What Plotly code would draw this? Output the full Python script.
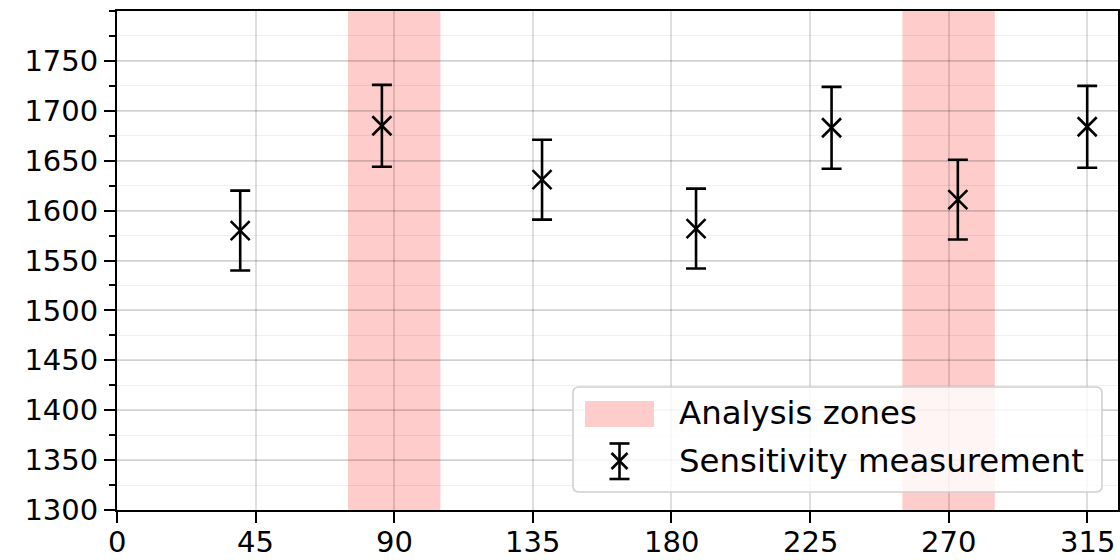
import plotly.graph_objects as go

# Measurement angles (degrees) and sensitivity readings with their uncertainties
angles = [40, 86, 138, 188, 232, 273, 315]
sensitivity = [1580, 1685, 1631, 1582, 1683, 1611, 1684]
sensitivity_err = [40, 41, 40, 40, 41, 40, 41]

# Highlighted analysis zones (degrees)
zone_starts = [75, 255]
zone_ends = [105, 285]

x_ticks = [0, 45, 90, 135, 180, 225, 270, 315]
y_ticks = [1300, 1350, 1400, 1450, 1500, 1550, 1600, 1650, 1700, 1750]

W, H = 1120, 560
ML, MR, MT, MB = 117, 2, 11, 50
PW, PH = W - ML - MR, H - MT - MB

FONT = "DejaVu Sans"
FS = 29
LEG_FS = 32.4
ZONE_COLOR = "#ffcccc"


def px(x):
    return (x - ML) / PW


def py(y):
    return 1 - (y - MT) / PH


fig = go.Figure()

fig.add_trace(go.Scatter(
    x=angles, y=sensitivity,
    mode="markers",
    marker=dict(symbol="x-thin", size=19, color="black",
                line=dict(width=2.6, color="black")),
    error_y=dict(type="data", array=sensitivity_err, visible=True,
                 color="black", thickness=2.6, width=10),
    showlegend=False,
))

shapes = []
for x0, x1 in zip(zone_starts, zone_ends):
    shapes.append(dict(type="rect", xref="x", yref="paper", x0=x0, x1=x1,
                       y0=0, y1=1, fillcolor=ZONE_COLOR, line=dict(width=0),
                       layer="below"))

# Legend frame (rounded box)
lx0, lx1, ly0, ly1, r = 573, 1102, 387, 492, 6
path = (f"M {px(lx0 + r)},{py(ly0)} L {px(lx1 - r)},{py(ly0)} "
        f"Q {px(lx1)},{py(ly0)} {px(lx1)},{py(ly0 + r)} "
        f"L {px(lx1)},{py(ly1 - r)} Q {px(lx1)},{py(ly1)} {px(lx1 - r)},{py(ly1)} "
        f"L {px(lx0 + r)},{py(ly1)} Q {px(lx0)},{py(ly1)} {px(lx0)},{py(ly1 - r)} "
        f"L {px(lx0)},{py(ly0 + r)} Q {px(lx0)},{py(ly0)} {px(lx0 + r)},{py(ly0)} Z")
shapes.append(dict(type="path", xref="paper", yref="paper", path=path,
                   fillcolor="rgba(255,255,255,0.8)",
                   line=dict(color="#d0d0d0", width=1.6), layer="above"))

# Legend key: zone patch
shapes.append(dict(type="rect", xref="paper", yref="paper",
                   x0=px(585), x1=px(654), y0=py(427), y1=py(401),
                   fillcolor=ZONE_COLOR, line=dict(width=0), layer="above"))

# Legend key: error bar with cross marker
cx, cy = 619.5, 461
seg = [
    (cx, 443.5, cx, 479),
    (cx - 10, 443.5, cx + 10, 443.5),
    (cx - 10, 479, cx + 10, 479),
    (cx - 8, cy - 8, cx + 8, cy + 8),
    (cx - 8, cy + 8, cx + 8, cy - 8),
]
for a, b, c, d in seg:
    shapes.append(dict(type="line", xref="paper", yref="paper",
                       x0=px(a), y0=py(b), x1=px(c), y1=py(d),
                       line=dict(color="black", width=2.6), layer="above"))

annotations = [
    dict(text="Analysis zones", x=px(677), y=py(413), xref="paper", yref="paper",
         xanchor="left", yanchor="middle", showarrow=False,
         font=dict(family=FONT, size=LEG_FS, color="black")),
    dict(text="Sensitivity measurement", x=px(677), y=py(461), xref="paper",
         yref="paper", xanchor="left", yanchor="middle", showarrow=False,
         font=dict(family=FONT, size=LEG_FS, color="black")),
]

# Angle tick labels placed under the x axis at each tick value
for v in x_ticks:
    annotations.append(dict(
        text=str(v), x=v, xref="x", y=py(542), yref="paper",
        xanchor="center", yanchor="middle", showarrow=False, borderpad=0,
        font=dict(family=FONT, size=FS, color="black"),
    ))

fig.update_layout(
    width=W, height=H,
    margin=dict(l=ML, r=MR, t=MT, b=MB, pad=0),
    paper_bgcolor="white", plot_bgcolor="white",
    font=dict(family=FONT, size=FS, color="black"),
    shapes=shapes, annotations=annotations,
    showlegend=False,
)

fig.update_xaxes(
    range=[0, 325], tickvals=x_ticks, showticklabels=False,
    showgrid=True, gridcolor="rgba(0,0,0,0.13)", gridwidth=1.6,
    showline=True, linecolor="black", linewidth=2, mirror=True,
    ticks="outside", ticklen=11, tickwidth=2, tickcolor="black",
    zeroline=False, automargin=False,
)
fig.update_yaxes(
    range=[1300, 1800], tickvals=y_ticks, ticktext=[str(v) for v in y_ticks],
    showgrid=True, gridcolor="rgba(0,0,0,0.13)", gridwidth=1.6,
    showline=True, linecolor="black", linewidth=2, mirror=True,
    ticks="outside", ticklen=11, tickwidth=2, tickcolor="black",
    zeroline=False, tickfont=dict(family=FONT, size=FS), automargin=False,
    minor=dict(tick0=1300, dtick=25, ticks="outside", ticklen=6, tickwidth=2,
               tickcolor="black", showgrid=True,
               gridcolor="rgba(0,0,0,0.06)", gridwidth=1.4),
)

fig.write_html("out.html")
